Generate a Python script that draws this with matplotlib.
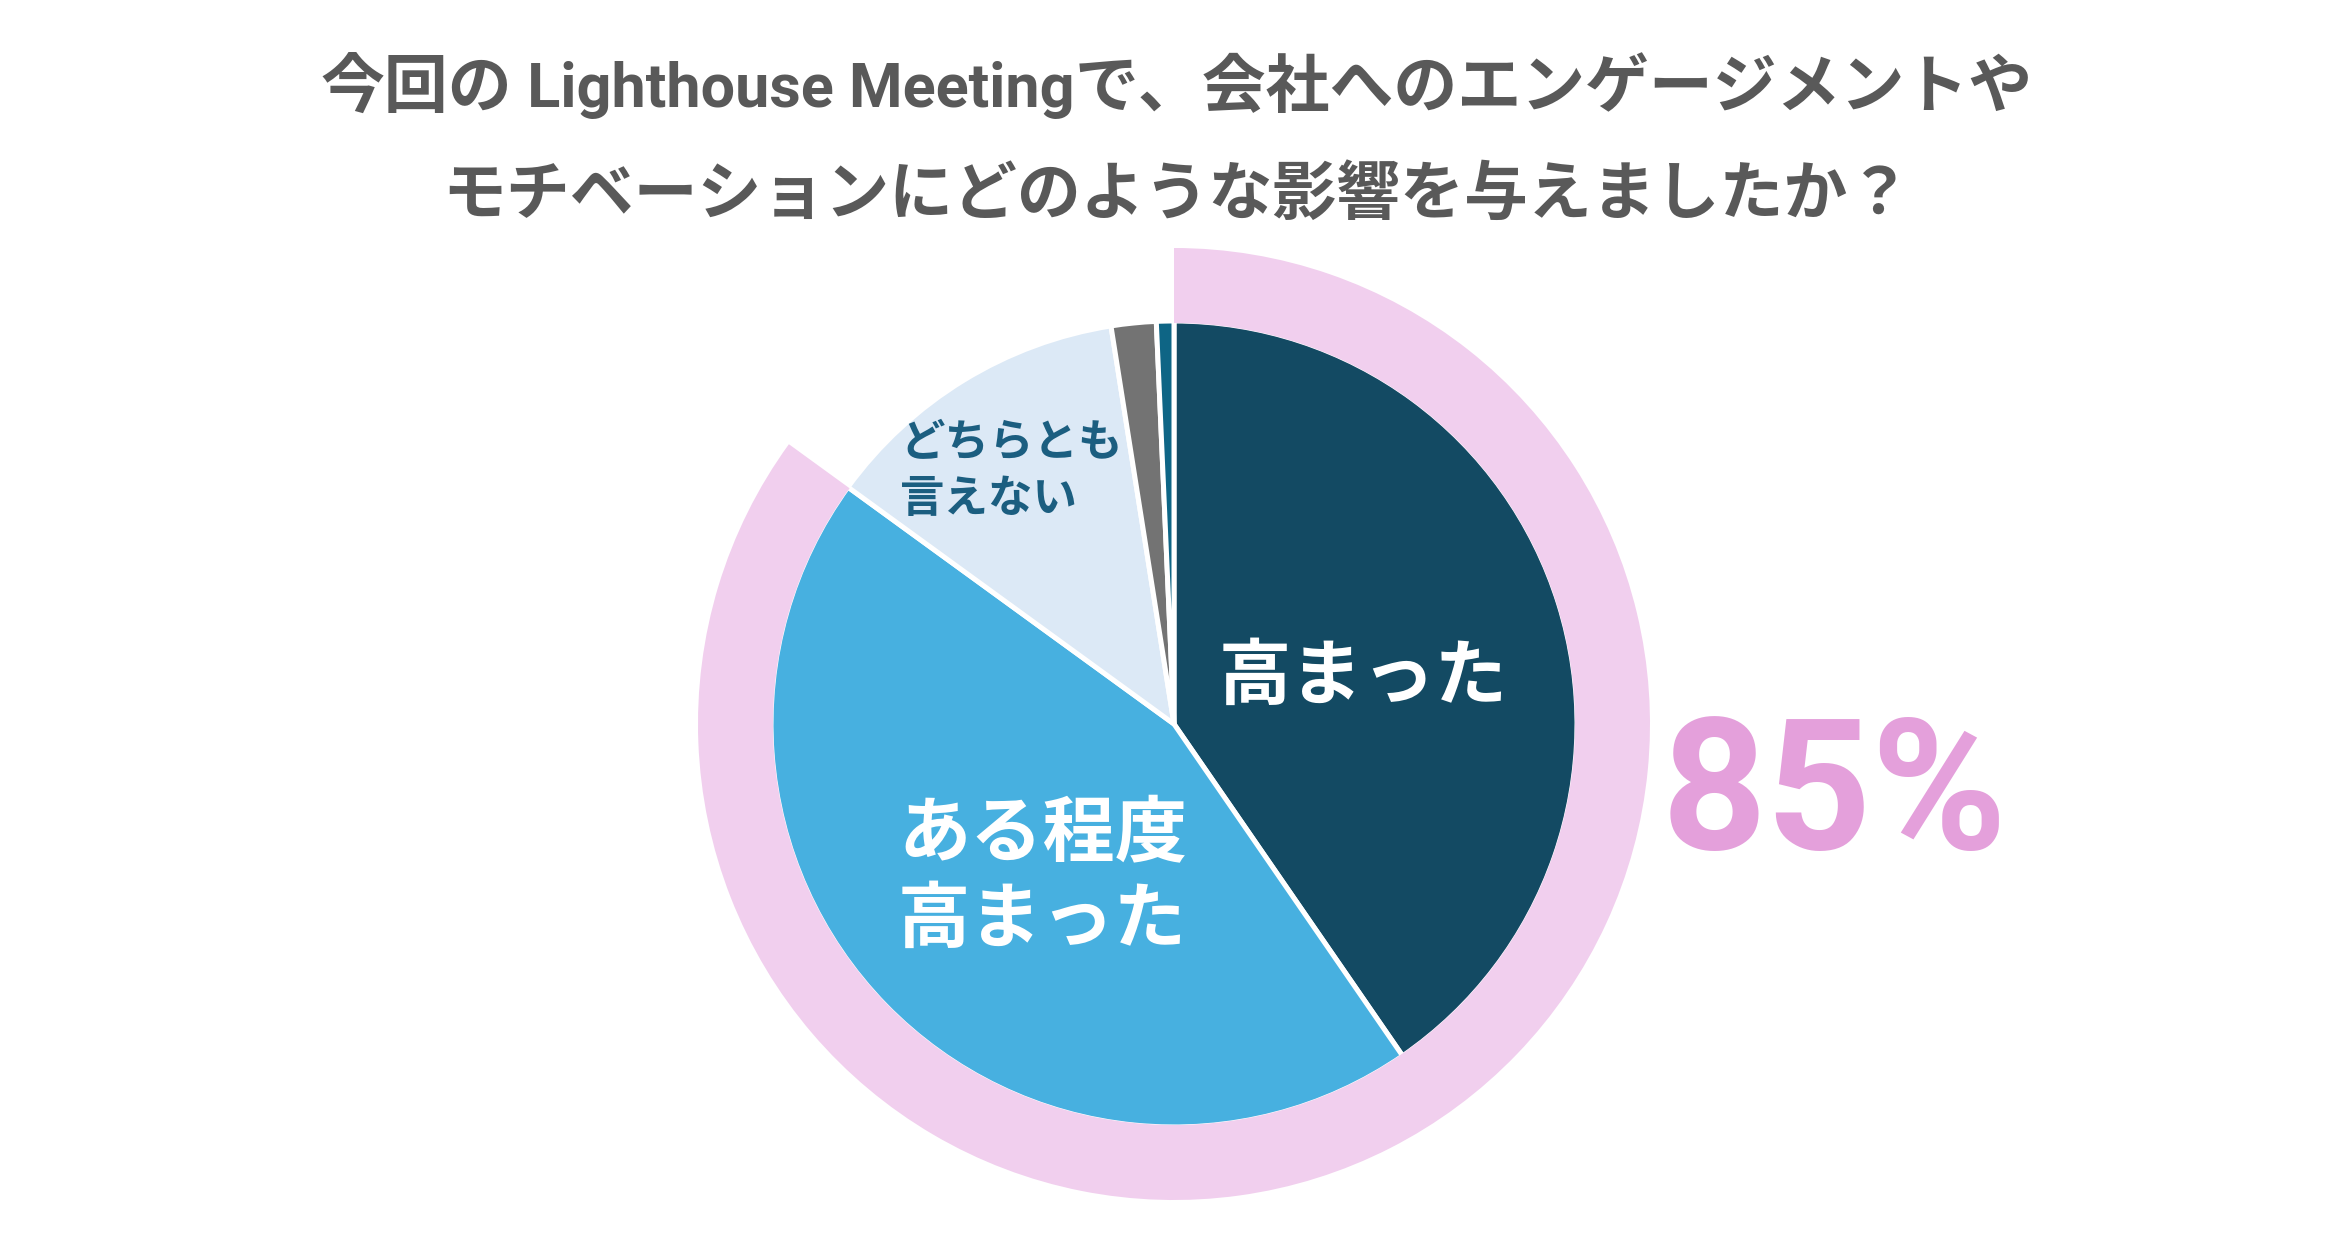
import matplotlib.pyplot as plt
from matplotlib import font_manager

plt.rcParams['font.family'] = ['Noto Sans CJK JP', 'DejaVu Sans']

# answer shares (%), clockwise from 12 o'clock
labels = ["高まった", "ある程度\n高まった", "どちらとも\n言えない", "低下した", "大きく低下した"]
values = [40.4, 44.6, 12.5, 1.8, 0.7]
colors = ["#134A63", "#47B0E0", "#DCE9F6", "#737373", "#0E6585"]

ring_pct = 85
title_line1 = ["今回の", " Lighthouse Meeting", "で、会社へのエンゲージメントや"]
title_line2 = "モチベーションにどのような影響を与えましたか？"

W, H = 2350, 1233
cx, cy = 1174, H - 724
r_pie = 403
r_ring = 476
title_gray = '#595959'

# narrower latin face for the event name
try:
    font_manager.findfont('Liberation Sans Narrow', fallback_to_default=False)
    latin_family, latin_size = ['Liberation Sans Narrow', 'Noto Sans CJK JP'], 46
except ValueError:
    latin_family, latin_size = ['Roboto', 'Noto Sans CJK JP'], 44

fig = plt.figure(figsize=(W / 100, H / 100), dpi=100)
ax = fig.add_axes([0, 0, 1, 1])

ax.pie(values, colors=colors, startangle=90, counterclock=False,
       radius=r_pie, center=(cx, cy),
       wedgeprops=dict(edgecolor='white', linewidth=3.6))

# pink ring for the "高まった + ある程度高まった" total, on top so it hides the outer white edge
ax.pie([ring_pct, 100 - ring_pct], colors=["#F1CFEE", "none"], startangle=90,
       counterclock=False, radius=r_ring, center=(cx, cy),
       wedgeprops=dict(width=r_ring - r_pie + 2, linewidth=0))

ax.set_xlim(0, W)
ax.set_ylim(0, H)
ax.set_aspect('equal')
ax.axis('off')

# slice labels
ax.text(1363, H - 678, labels[0], ha='center', va='center', fontsize=52,
        color='white', weight='bold')
ax.text(898, H - 878, labels[1], ha='left', va='center', fontsize=52,
        color='white', weight='bold', linespacing=1.2)
ax.text(900, H - 471, labels[2], ha='left', va='center', fontsize=32,
        color='#1B5E80', weight='bold', linespacing=1.3)

ax.text(1835, H - 849, f"{ring_pct}%", ha='center', va='baseline', fontsize=132,
        color='#E4A0DB', weight='bold', family=['Roboto', 'Liberation Sans'])

# title, line 1 is built from pieces so the latin part can use the narrower face
pieces = []
for i, part in enumerate(title_line1):
    if i == 1:
        fam, size = latin_family, latin_size
    else:
        fam, size = ['Noto Sans CJK JP', 'DejaVu Sans'], 46
    pieces.append(ax.text(0, H - 107, part, ha='left', va='baseline', fontsize=size,
                          color=title_gray, weight='bold', family=fam))
fig.canvas.draw()
renderer = fig.canvas.get_renderer()
widths = [t.get_window_extent(renderer).width for t in pieces]
x = 1177 - sum(widths) / 2
for t, w in zip(pieces, widths):
    t.set_x(x)
    x += w

ax.text(1177, H - 195, title_line2, ha='center', va='center',
        fontsize=46, color=title_gray, weight='bold')

fig.savefig('out.png', dpi=100, facecolor='white')
